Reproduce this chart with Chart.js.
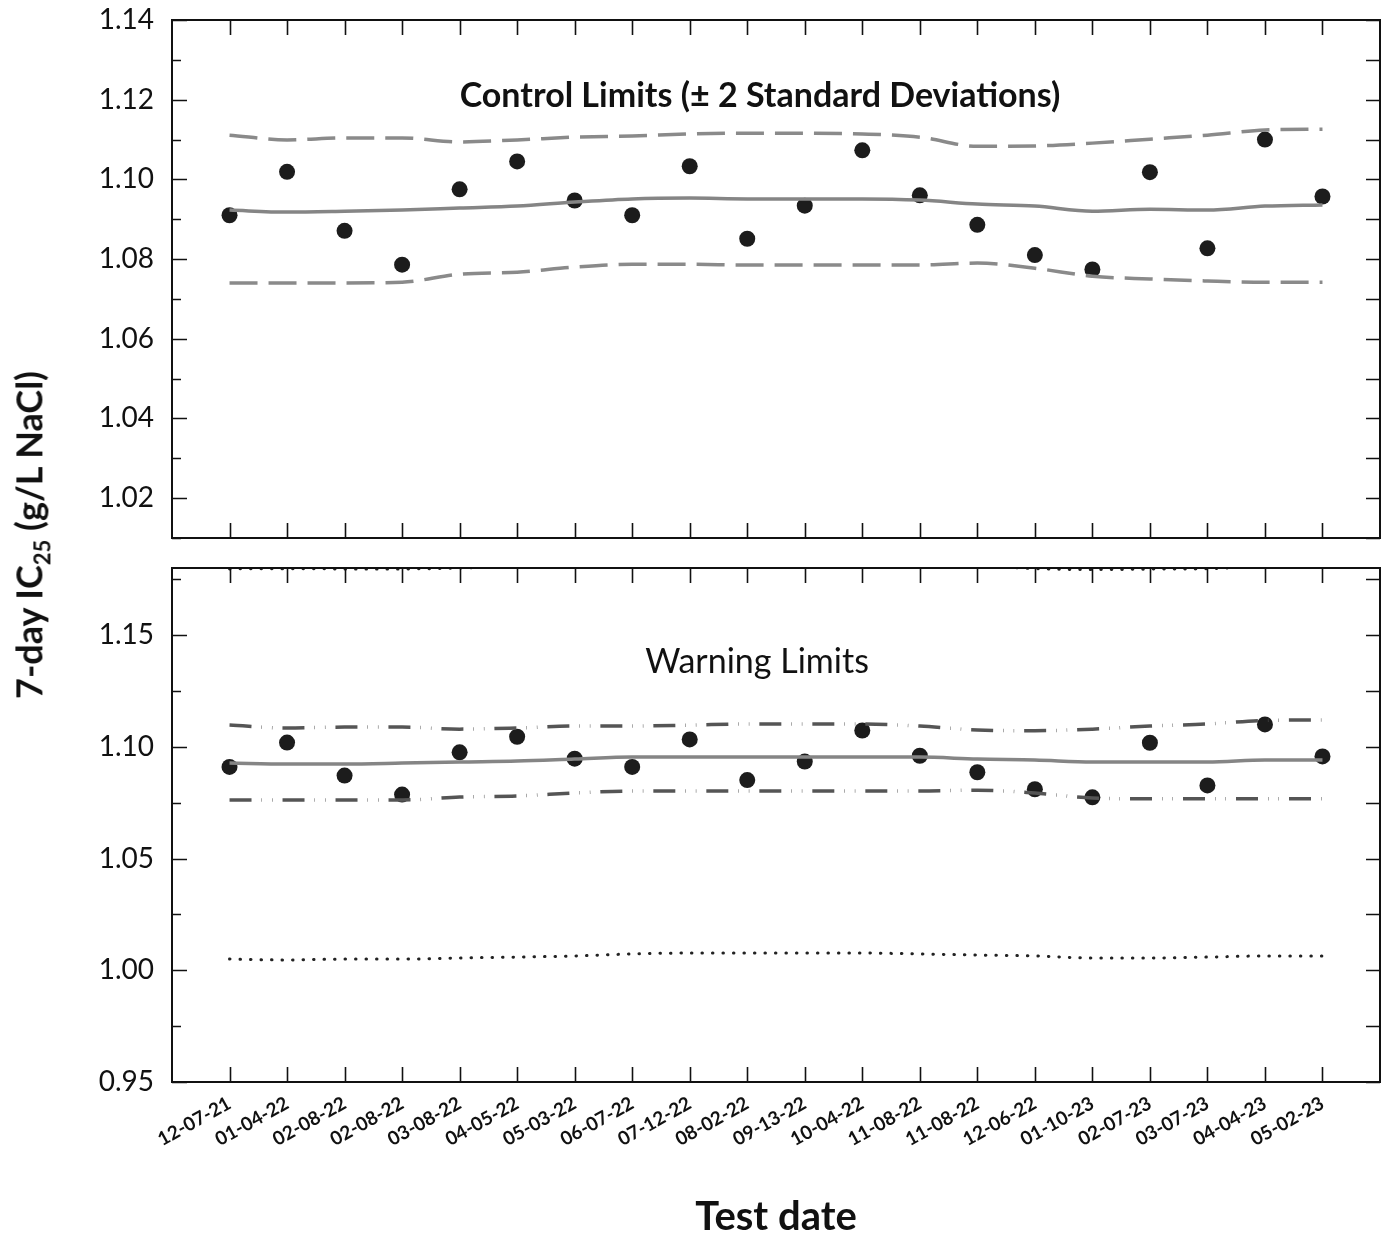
<!DOCTYPE html>
<html>
<head>
<meta charset="utf-8">
<script src="https://cdn.jsdelivr.net/npm/chart.js@4.4.0/dist/chart.umd.min.js"></script>
<style>
  body { margin: 0; background: #fff; }
  #wrap { position: relative; width: 1388px; height: 1237px; overflow: hidden; font-family: Lato, "Open Sans", sans-serif; }
  #topChart { position: absolute; left: 0; top: 0; }
  #botChart { position: absolute; left: 0; top: 548px; }
  #yTitle { position: absolute; left: 31px; top: 535px; transform: translate(-50%, -50%) rotate(-90deg);
            white-space: nowrap; font-weight: bold; font-size: 36px; color: #111; }
  #yTitle sub { font-size: 22px; }
</style>
</head>
<body>
<div id="wrap">
  <canvas id="topChart" width="1388" height="548"></canvas>
  <canvas id="botChart" width="1388" height="689"></canvas>
  <div id="yTitle">7-day IC<sub>25</sub> (g/L NaCl)</div>
</div>
<script>
// x categories (test dates)
const testDates = ["12-07-21", "01-04-22", "02-08-22", "02-08-22", "03-08-22", "04-05-22", "05-03-22",
  "06-07-22", "07-12-22", "08-02-22", "09-13-22", "10-04-22", "11-08-22", "11-08-22", "12-06-22",
  "01-10-23", "02-07-23", "03-07-23", "04-04-23", "05-02-23"];

// measured IC25 values (g/L NaCl)
const ic25 = [1.0910, 1.1019, 1.0871, 1.0786, 1.0975, 1.1045, 1.0947, 1.0910, 1.1033, 1.0851,
  1.0934, 1.1073, 1.0960, 1.0886, 1.0810, 1.0774, 1.1018, 1.0827, 1.1100, 1.0957];

// top panel: running mean and +/- 2 SD control limits
const controlMean = [1.0923, 1.0918, 1.0920, 1.0923, 1.0928, 1.0933, 1.0943, 1.0951, 1.0953, 1.0951,
  1.0951, 1.0951, 1.0948, 1.0938, 1.0933, 1.0920, 1.0925, 1.0923, 1.0933, 1.0936];
const controlUpper = [1.1111, 1.1099, 1.1104, 1.1104, 1.1094, 1.1099, 1.1106, 1.1109, 1.1114, 1.1116,
  1.1116, 1.1114, 1.1106, 1.1083, 1.1084, 1.1091, 1.1101, 1.1111, 1.1124, 1.1126];
const controlLower = [1.0740, 1.0740, 1.0740, 1.0742, 1.0762, 1.0767, 1.0780, 1.0787, 1.0787, 1.0785,
  1.0785, 1.0785, 1.0785, 1.0790, 1.0777, 1.0757, 1.0750, 1.0745, 1.0742, 1.0742];

// bottom panel: mean, warning limits and outer (dotted) limits
const warnMean = [1.0927, 1.0923, 1.0923, 1.0927, 1.0932, 1.0936, 1.0945, 1.0954, 1.0954, 1.0954,
  1.0954, 1.0954, 1.0954, 1.0945, 1.0941, 1.0932, 1.0932, 1.0932, 1.0941, 1.0941];
const warnUpper = [1.1097, 1.1084, 1.1088, 1.1088, 1.1079, 1.1084, 1.1093, 1.1093, 1.1097, 1.1102,
  1.1102, 1.1102, 1.1093, 1.1075, 1.1072, 1.1079, 1.1093, 1.1102, 1.1118, 1.1120];
const warnLower = [1.0762, 1.0762, 1.0762, 1.0762, 1.0775, 1.0780, 1.0793, 1.0802, 1.0802, 1.0802,
  1.0802, 1.0802, 1.0802, 1.0806, 1.0793, 1.0771, 1.0767, 1.0767, 1.0767, 1.0767];
const outerUpper = [1.1796, 1.1797, 1.1796, 1.1796, 1.1800, 1.1808, 1.1815, 1.1822, 1.1825, 1.1825,
  1.1825, 1.1825, 1.1822, 1.1812, 1.1797, 1.1793, 1.1795, 1.1797, 1.1808, 1.1812];
const outerLower = [1.0050, 1.0046, 1.0050, 1.0050, 1.0055, 1.0059, 1.0064, 1.0073, 1.0077, 1.0077,
  1.0077, 1.0077, 1.0073, 1.0068, 1.0064, 1.0055, 1.0055, 1.0059, 1.0064, 1.0064];

// y tick labels
const topYTicks = [1.02, 1.04, 1.06, 1.08, 1.10, 1.12, 1.14];
const botYTicks = [0.95, 1.00, 1.05, 1.10, 1.15];

const FONT = "Lato, 'Open Sans', sans-serif";
const INK = "#111";

function toPoints(values) {
  return values.map(function (v, i) { return { x: i, y: v }; });
}

function limitLine(values, dash, color) {
  return {
    data: toPoints(values),
    borderColor: color,
    borderWidth: 3.5,
    borderDash: dash,
    borderCapStyle: "butt",
    pointRadius: 0,
    cubicInterpolationMode: "monotone",
    fill: false
  };
}

// draws frame, inside tick marks and the panel caption
const panelFrame = {
  id: "panelFrame",
  afterDatasetsDraw(chart, args, opts) {
    const ctx = chart.ctx;
    const a = chart.chartArea;
    const xs = chart.scales.x;
    const ys = chart.scales.y;
    ctx.save();
    ctx.strokeStyle = INK;
    ctx.lineWidth = 1.6;
    ctx.beginPath();
    testDates.forEach(function (d, i) {
      const px = Math.round(xs.getPixelForValue(i)) + 0.5;
      ctx.moveTo(px, a.top);
      ctx.lineTo(px, a.top + 15);
      ctx.moveTo(px, a.bottom);
      ctx.lineTo(px, a.bottom - 15);
    });
    const n = Math.round((ys.max - ys.min) / opts.minorStep);
    for (let k = 0; k <= n; k++) {
      const v = ys.min + k * opts.minorStep;
      const isMajor = opts.majors.some(function (m) { return Math.abs(m - v) < 1e-6; });
      const py = Math.round(ys.getPixelForValue(v)) + 0.5;
      ctx.moveTo(a.left, py);
      ctx.lineTo(a.left + (isMajor ? 15 : 9), py);
      ctx.moveTo(a.right, py);
      ctx.lineTo(a.right - 14, py);
    }
    ctx.stroke();
    ctx.lineWidth = 2;
    ctx.strokeRect(a.left, a.top, a.right - a.left, a.bottom - a.top);
    ctx.fillStyle = INK;
    ctx.font = opts.titleFont;
    ctx.textAlign = "center";
    ctx.textBaseline = "middle";
    ctx.fillText(opts.title, (a.left + a.right) / 2 + opts.titleDx, a.top + opts.titleDy);
    ctx.restore();
  }
};

function yAxis(min, max, ticks) {
  return {
    type: "linear",
    min: min,
    max: max,
    afterBuildTicks: function (s) { s.ticks = ticks.map(function (v) { return { value: v }; }); },
    afterFit: function (s) { s.width = 172; s.paddingTop = 0; s.paddingBottom = 0; },
    grid: { display: false, drawTicks: false },
    border: { display: false },
    ticks: {
      padding: 18,
      color: INK,
      font: { family: FONT, size: 28 },
      callback: function (v) { return v.toFixed(2); }
    }
  };
}

function buildChart(canvasId, datasets, yScale, xScale, padding, frameOpts) {
  return new Chart(document.getElementById(canvasId), {
    type: "line",
    data: { datasets: datasets },
    plugins: [panelFrame],
    options: {
      responsive: false,
      animation: false,
      layout: { padding: padding },
      plugins: { legend: { display: false }, tooltip: { enabled: false }, panelFrame: frameOpts },
      scales: { x: xScale, y: yScale }
    }
  });
}

const pointSet = {
  data: toPoints(ic25),
  showLine: false,
  pointRadius: 8,
  pointBackgroundColor: "#1c1c1c",
  pointBorderWidth: 0
};

// top panel
buildChart("topChart", [
  limitLine(controlMean, [], "#858585"),
  limitLine(controlUpper, [28, 11], "#8a8a8a"),
  limitLine(controlLower, [28, 11], "#8a8a8a"),
  pointSet
], yAxis(1.01, 1.14, topYTicks), {
  type: "linear", min: -1, max: 20, display: false
}, { top: 20, right: 3, left: 0, bottom: 10 }, {
  minorStep: 0.01, majors: topYTicks,
  title: "Control Limits (\u00b1 2 Standard Deviations)",
  titleFont: "bold 34px " + FONT, titleDx: -16, titleDy: 76
});

// bottom panel
buildChart("botChart", [
  limitLine(warnMean, [], "#858585"),
  limitLine(warnUpper, [22, 10, 0.5, 10, 0.5, 10], "#555"),
  limitLine(warnLower, [22, 10, 0.5, 10, 0.5, 10], "#555"),
  Object.assign(limitLine(outerUpper, [0.5, 10], "#222"), { borderCapStyle: "round", borderWidth: 3 }),
  Object.assign(limitLine(outerLower, [0.5, 10], "#222"), { borderCapStyle: "round", borderWidth: 3 }),
  Object.assign({}, pointSet, { data: toPoints(ic25) })
], yAxis(0.95, 1.18, botYTicks), {
  type: "linear", min: -1, max: 20,
  afterBuildTicks: function (s) { s.ticks = testDates.map(function (d, i) { return { value: i }; }); },
  afterFit: function (s) { s.height = 155; s.paddingLeft = 0; s.paddingRight = 0; },
  grid: { display: false, drawTicks: false },
  border: { display: false },
  ticks: {
    autoSkip: false, minRotation: 29, maxRotation: 29, padding: 10, color: INK,
    font: { family: FONT, size: 19, weight: "bold" },
    callback: function (v) { return testDates[v]; }
  },
  title: {
    display: true, text: "Test date", color: INK,
    font: { family: FONT, size: 40, weight: "bold", lineHeight: 1.0 },
    padding: { top: 0, bottom: 0 }
  }
}, { top: 20, right: 3, left: 0, bottom: 0 }, {
  minorStep: 0.025, majors: botYTicks,
  title: "Warning Limits",
  titleFont: "34px " + FONT, titleDx: -19, titleDy: 94
});
</script>
</body>
</html>
